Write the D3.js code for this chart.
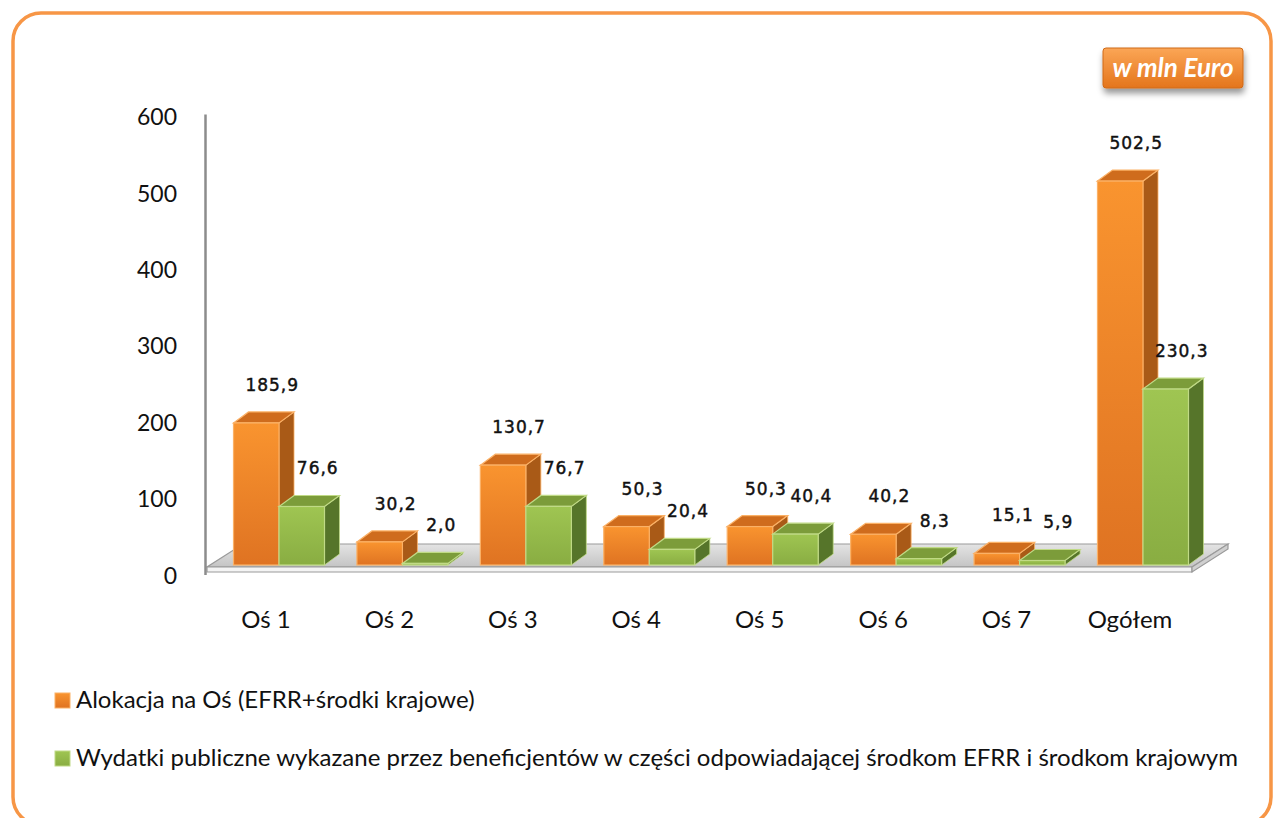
<!DOCTYPE html>
<html>
<head>
<meta charset="utf-8">
<script src="https://cdn.jsdelivr.net/npm/d3@7"></script>
<style>
  html, body { margin: 0; padding: 0; background: #fff; }
  svg { display: block; }
</style>
</head>
<body>
<div id="chart"></div>
<script>
// dane wykresu
const categories = ["Oś 1", "Oś 2", "Oś 3", "Oś 4", "Oś 5", "Oś 6", "Oś 7", "Ogółem"];
const alokacja = [185.9, 30.2, 130.7, 50.3, 50.3, 40.2, 15.1, 502.5];
const wydatki = [76.6, 2.0, 76.7, 20.4, 40.4, 8.3, 5.9, 230.3];
const yTicks = [0, 100, 200, 300, 400, 500, 600];
const seriesNames = [
  "Alokacja na Oś (EFRR+środki krajowe)",
  "Wydatki publiczne wykazane przez beneficjentów w części odpowiadającej środkom EFRR i środkom krajowym"
];
const unitLabel = "w mln Euro";

const width = 1273, height = 818;
const svg = d3.select("#chart").append("svg").attr("width", width).attr("height", height);
const defs = svg.append("defs");

// kolory serii: przód, góra, bok, obrys
const palette = [
  { top: "#cf6c1d", side: "#a95a17", stroke: "#fbb166", g0: "#f9942f", g1: "#df7322" },
  { top: "#7c9c3a", side: "#56752a", stroke: "#c0da86", g0: "#9fc552", g1: "#89ad42" }
];
palette.forEach((p, i) => {
  const lg = defs.append("linearGradient").attr("id", "front" + i)
    .attr("x1", 0).attr("y1", 0).attr("x2", 0).attr("y2", 1);
  lg.append("stop").attr("offset", "0%").attr("stop-color", p.g0);
  lg.append("stop").attr("offset", "100%").attr("stop-color", p.g1);
});
const floorGrad = defs.append("linearGradient").attr("id", "floorGrad")
  .attr("x1", 0).attr("y1", 0).attr("x2", 0).attr("y2", 1);
floorGrad.append("stop").attr("offset", "0%").attr("stop-color", "#e4e4e4");
floorGrad.append("stop").attr("offset", "100%").attr("stop-color", "#c4c4c4");
const badgeGrad = defs.append("linearGradient").attr("id", "badgeGrad")
  .attr("x1", 0).attr("y1", 0).attr("x2", 0).attr("y2", 1);
badgeGrad.append("stop").attr("offset", "0%").attr("stop-color", "#fba656");
badgeGrad.append("stop").attr("offset", "100%").attr("stop-color", "#e4751c");
const shadow = defs.append("filter").attr("id", "shadow").attr("x", "-20%").attr("y", "-20%").attr("width", "140%").attr("height", "170%");
shadow.append("feDropShadow").attr("dx", 1).attr("dy", 5).attr("stdDeviation", 3).attr("flood-color", "#000").attr("flood-opacity", 0.4);

// ramka
svg.append("rect").attr("x", 13).attr("y", 13).attr("width", 1258).attr("height", 812)
  .attr("rx", 28).attr("fill", "none").attr("stroke", "#f79646").attr("stroke-width", 3.5);

// skale
const y = d3.scaleLinear().domain([0, 600]).range([565, 106.6]);
const x = d3.scaleBand().domain(categories).range([217.3, 1204.7]);
const groupW = 91;
const xs = d3.scaleBand().domain([0, 1]).range([0, groupW]);
const depth = { dx: 15, dy: -11 };
const fmt = v => d3.format(".1f")(v).replace(".", ",");

// podłoga 3D
const y0 = y(0);
const fl = { x0: 207, x1: 1192, front: y0 + 2, back: y0 - 21, dx: 36, thick: 5 };
svg.append("path")
  .attr("d", `M${fl.x0},${fl.front} L${fl.x1},${fl.front} L${fl.x1 + fl.dx},${fl.back} L${fl.x0 + fl.dx},${fl.back} Z`)
  .attr("fill", "url(#floorGrad)").attr("stroke", "#9a9a9a").attr("stroke-width", 1.2);
svg.append("path")
  .attr("d", `M${fl.x0},${fl.front} L${fl.x1},${fl.front} L${fl.x1},${fl.front + fl.thick} L${fl.x0},${fl.front + fl.thick} Z`)
  .attr("fill", "#f4f4f4").attr("stroke", "#9a9a9a").attr("stroke-width", 1.2);
svg.append("path")
  .attr("d", `M${fl.x1},${fl.front} L${fl.x1 + fl.dx},${fl.back} L${fl.x1 + fl.dx},${fl.back + fl.thick} L${fl.x1},${fl.front + fl.thick} Z`)
  .attr("fill", "#d0d0d0").attr("stroke", "#9a9a9a").attr("stroke-width", 1.2);

// oś Y
svg.append("line").attr("x1", 205.5).attr("x2", 205.5).attr("y1", y(600) + 8).attr("y2", y0 + 10)
  .attr("stroke", "#8c8c8c").attr("stroke-width", 2.5);
svg.append("g").selectAll("text").data(yTicks).enter().append("text")
  .attr("x", 177).attr("y", d => y(d) + 18.5)
  .attr("text-anchor", "end")
  .style("font-family", "Lato, 'Open Sans', sans-serif").style("font-size", "23px").style("fill", "#111")
  .text(d => d);

// słupki 3D
function bar(g, bx, v, p, i) {
  const w = xs.bandwidth();
  const yt = y(v);
  const { dx, dy } = depth;
  g.append("path")
    .attr("d", `M${bx + w},${yt} L${bx + w + dx},${yt + dy} L${bx + w + dx},${y0 + dy} L${bx + w},${y0} Z`)
    .attr("fill", p.side).attr("stroke", p.stroke).attr("stroke-width", 0.8);
  g.append("path")
    .attr("d", `M${bx},${yt} L${bx + dx},${yt + dy} L${bx + w + dx},${yt + dy} L${bx + w},${yt} Z`)
    .attr("fill", p.top).attr("stroke", p.stroke).attr("stroke-width", 1.2);
  g.append("rect").attr("x", bx).attr("y", yt).attr("width", w).attr("height", Math.max(y0 - yt, 0.5))
    .attr("fill", `url(#front${i})`).attr("stroke", p.stroke).attr("stroke-width", 1.2);
}

const series = [alokacja, wydatki];
const groups = svg.append("g").selectAll("g").data(categories).enter().append("g");
groups.each(function(c, k) {
  const g = d3.select(this);
  const left = x(c) + x.bandwidth() / 2 - groupW / 2;
  series.forEach((s, i) => bar(g, left + xs(i), s[k], palette[i], i));
});

// etykiety danych
const labels = svg.append("g");
series.forEach((s, i) => {
  labels.selectAll(null).data(s).enter().append("text")
    .attr("x", (d, k) => x(categories[k]) + x.bandwidth() / 2 - groupW / 2 + xs(i) + xs.bandwidth() / 2 + 16)
    .attr("y", d => y(d) - 32)
    .attr("text-anchor", "middle")
    .style("font-family", "'DejaVu Sans', Verdana, sans-serif").style("font-size", "17px")
    .style("letter-spacing", "1px").style("fill", "#111")
    .style("stroke", "#111").style("stroke-width", "0.45px")
    .text(fmt);
});

// etykiety kategorii
svg.append("g").selectAll("text").data(categories).enter().append("text")
  .attr("x", d => x(d) + x.bandwidth() / 2 - 13).attr("y", 628)
  .attr("text-anchor", "middle")
  .style("font-family", "Lato, 'Open Sans', sans-serif").style("font-size", "24px").style("fill", "#111")
  .text(d => d);

// legenda
const legend = svg.append("g");
const legY = [701, 759];
seriesNames.forEach((name, i) => {
  legend.append("rect").attr("x", 55).attr("y", legY[i] - 8).attr("width", 15).attr("height", 15)
    .attr("fill", `url(#front${i})`).attr("stroke", palette[i].stroke).attr("stroke-width", 1);
  legend.append("text").attr("class", "legtext").attr("x", 76).attr("y", legY[i] + 7)
    .style("font-family", "Lato, 'Open Sans', sans-serif").style("font-size", "20px").style("fill", "#111")
    .text(name);
});
// dopasowanie rozmiaru legendy do szerokości
const longest = legend.selectAll(".legtext").nodes()[1];
const fs = 20 * 1162 / longest.getComputedTextLength();
legend.selectAll(".legtext").style("font-size", fs + "px");

// znacznik jednostki
const badge = svg.append("g");
badge.append("rect").attr("x", 1103).attr("y", 48).attr("width", 140).attr("height", 40).attr("rx", 3)
  .attr("fill", "url(#badgeGrad)").attr("stroke", "#cf6a18").attr("stroke-width", 1)
  .attr("filter", "url(#shadow)");
badge.append("text").attr("x", 1173).attr("y", 77).attr("text-anchor", "middle")
  .style("font-family", "Lato, 'Open Sans', sans-serif").style("font-size", "26px")
  .style("font-weight", "bold").style("font-style", "italic").style("fill", "#fff")
  .text(unitLabel);
</script>
</body>
</html>
